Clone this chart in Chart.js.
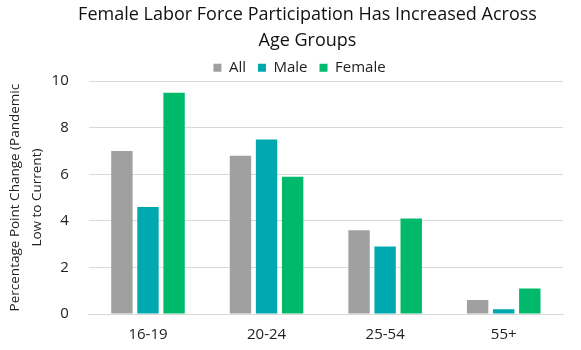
<!DOCTYPE html>
<html>
<head>
<meta charset="utf-8">
<script src="https://cdn.jsdelivr.net/npm/chart.js@4"></script>
<style>
  html, body { margin: 0; padding: 0; background: #fff; }
  #wrap { width: 581px; height: 350px; }
</style>
</head>
<body>
<div id="wrap"><canvas id="plot"></canvas></div>
<script>
// Datos
let grupos = ['16-19', '20-24', '25-54', '55+'];
let todos = [7.0, 6.8, 3.6, 0.6];
let hombres = [4.6, 7.5, 2.9, 0.2];
let mujeres = [9.5, 5.9, 4.1, 1.1];

Chart.defaults.font.family = '"Open Sans", "Noto Sans", sans-serif';
Chart.defaults.color = '#222';

// El titulo y la leyenda del original no estan centrados en el canvas: se desplazan a la derecha
let desplazar = (caja, dx) => {
  let dibujar = caja.draw.bind(caja);
  caja.draw = function (area) {
    this.ctx.save();
    this.ctx.translate(dx, 0);
    dibujar(area);
    this.ctx.restore();
  };
};

let ajusteCajas = {
  id: 'ajusteCajas',
  afterInit(chart) {
    desplazar(chart.titleBlock, 24);
    desplazar(chart.legend, 16);
  }
};

let config = {
  type: 'bar',
  data: {
    labels: grupos,
    datasets: [
      { label: 'All', data: todos, backgroundColor: '#A0A0A0' },
      { label: 'Male', data: hombres, backgroundColor: '#00A9B0' },
      { label: 'Female', data: mujeres, backgroundColor: '#00B96B' }
    ]
  },
  options: {
    responsive: true,
    maintainAspectRatio: false,
    animation: false,
    layout: { padding: { left: 4, right: 18, top: 2, bottom: 2 } },
    datasets: {
      bar: { barPercentage: 0.82, categoryPercentage: 0.66 }
    },
    plugins: {
      title: {
        display: true,
        text: ['Female Labor Force Participation Has Increased Across', 'Age Groups'],
        font: { size: 18, weight: 'normal', lineHeight: 1.45 },
        color: '#111',
        padding: { top: 0, bottom: -6 }
      },
      legend: {
        maxHeight: 33,
        labels: {
          boxWidth: 8,
          boxHeight: 8,
          font: { size: 15 },
          padding: 12
        }
      },
      tooltip: { enabled: false }
    },
    scales: {
      x: {
        grid: { display: false },
        border: { color: '#D9D9D9' },
        ticks: { font: { size: 15 }, padding: 4 }
      },
      y: {
        min: 0,
        max: 10,
        ticks: { stepSize: 2, font: { size: 15 }, padding: 3 },
        grid: { color: '#D9D9D9', tickLength: 17, tickColor: 'rgba(0,0,0,0)' },
        border: { display: false },
        title: {
          display: true,
          text: ['Percentage Point Change (Pandemic', 'Low to Current)'],
          font: { size: 13.5, lineHeight: 1.65 },
          padding: 0
        }
      }
    }
  },
  plugins: [ajusteCajas]
};

let chart = new Chart(document.getElementById('plot'), config);
</script>
</body>
</html>
